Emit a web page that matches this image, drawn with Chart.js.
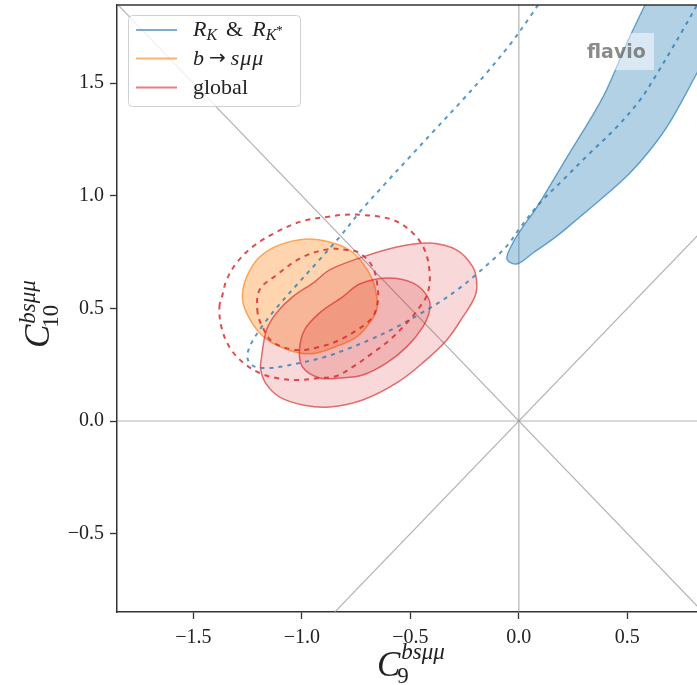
<!DOCTYPE html>
<html>
<head>
<meta charset="utf-8">
<script src="https://cdn.jsdelivr.net/npm/chart.js@4/dist/chart.umd.min.js"></script>
<style>
html,body{margin:0;padding:0;background:#fff;}
canvas{display:block;}
</style>
</head>
<body>
<canvas id="c" width="697" height="685"></canvas>
<script>
// ---- tick labels ----
const c9Ticks  = [-1.5, -1.0, -0.5, 0.0, 0.5];
const c10Ticks = [-0.5, 0.0, 0.5, 1.0, 1.5];

// ---- legend labels ----
const legendNames = ['R_K & R_K*', 'b → sμμ', 'global'];

// ---- R_K & R_K* : 1 sigma (filled, closed contour) ----
const rk1sC9  = [-0.055, -0.028, 0.018, 0.083, 0.222, 0.388, 0.498, 0.581, 0.688, 0.835, 1.02, 0.928, 0.821, 0.697, 0.605, 0.503, 0.374, 0.281, 0.175, 0.065, -0.009];
const rk1sC10 = [0.719, 0.790, 0.861, 0.950, 1.172, 1.439, 1.679, 1.847, 2.07, 2.247, 2.136, 1.736, 1.545, 1.328, 1.203, 1.092, 0.981, 0.906, 0.821, 0.746, 0.697];

// ---- R_K & R_K* : 2 sigma (dashed, open within view) ----
const rk2sC9  = [0.134, 0.051, -0.042, -0.157, -0.272, -0.388, -0.503, -0.618, -0.725, -0.826, -0.928, -1.024, -1.117, -1.186, -1.237, -1.251, -1.223, -1.158, -1.080, -0.988, -0.895, -0.803, -0.688, -0.572, -0.457, -0.365, -0.272, -0.189, -0.111, -0.051, 0.005, 0.097, 0.203, 0.328, 0.452, 0.558, 0.628, 0.697, 0.761, 0.821, 0.881];
const rk2sC10 = [1.914, 1.794, 1.670, 1.536, 1.412, 1.292, 1.172, 1.052, 0.937, 0.817, 0.706, 0.604, 0.502, 0.417, 0.337, 0.280, 0.244, 0.235, 0.244, 0.262, 0.284, 0.315, 0.360, 0.413, 0.475, 0.528, 0.591, 0.657, 0.724, 0.782, 0.857, 0.968, 1.070, 1.190, 1.306, 1.425, 1.528, 1.639, 1.745, 1.847, 1.958];

// ---- b -> s mu mu : 1 sigma (filled, closed) ----
const bsmm1sC9  = [-1.274, -1.255, -1.195, -1.103, -0.978, -0.872, -0.780, -0.720, -0.674, -0.655, -0.655, -0.688, -0.748, -0.826, -0.932, -1.011, -1.117, -1.195, -1.255];
const bsmm1sC10 = [0.551, 0.639, 0.728, 0.782, 0.808, 0.795, 0.759, 0.702, 0.626, 0.551, 0.493, 0.435, 0.373, 0.337, 0.302, 0.302, 0.337, 0.391, 0.480];

// ---- global : 2 sigma (filled, light, closed) ----
const glob2sC9  = [-1.186, -1.163, -1.117, -1.043, -0.941, -0.872, -0.734, -0.563, -0.411, -0.286, -0.212, -0.194, -0.203, -0.258, -0.332, -0.443, -0.563, -0.720, -0.872, -0.990, -1.100, -1.165, -1.190];
const glob2sC10 = [0.284, 0.404, 0.480, 0.551, 0.618, 0.671, 0.724, 0.773, 0.790, 0.759, 0.684, 0.613, 0.551, 0.462, 0.360, 0.258, 0.169, 0.093, 0.062, 0.070, 0.105, 0.165, 0.230];

// ---- global : 1 sigma (filled, darker, closed) ----
const glob1sC9  = [-1.011, -0.988, -0.918, -0.812, -0.734, -0.609, -0.489, -0.420, -0.411, -0.443, -0.517, -0.609, -0.720, -0.826, -0.918, -0.997];
const glob1sC10 = [0.315, 0.404, 0.480, 0.551, 0.608, 0.635, 0.613, 0.551, 0.493, 0.417, 0.329, 0.258, 0.204, 0.191, 0.191, 0.240];

// ---- red dashed contours (closed) ----
const redOuterC9  = [-1.380, -1.366, -1.347, -1.301, -1.228, -1.117, -0.997, -0.886, -0.812, -0.720, -0.581, -0.489, -0.434, -0.411, -0.420, -0.457, -0.517, -0.595, -0.674, -0.766, -0.840, -0.918, -1.024, -1.117, -1.195, -1.274, -1.334, -1.371];
const redOuterC10 = [0.506, 0.560, 0.626, 0.702, 0.773, 0.839, 0.888, 0.906, 0.915, 0.915, 0.893, 0.835, 0.759, 0.657, 0.568, 0.506, 0.435, 0.360, 0.302, 0.240, 0.200, 0.191, 0.182, 0.191, 0.213, 0.262, 0.329, 0.417];
const redInnerC9  = [-1.204, -1.195, -1.117, -0.997, -0.872, -0.794, -0.734, -0.674, -0.651, -0.651, -0.674, -0.725, -0.826, -0.918, -1.024, -1.135, -1.181];
const redInnerC10 = [0.480, 0.582, 0.648, 0.728, 0.764, 0.759, 0.746, 0.684, 0.595, 0.524, 0.462, 0.417, 0.360, 0.329, 0.315, 0.351, 0.417];

// ---- grey reference lines ----
const vLineC9 = [0, 0],   vLineC10 = [-3, 3];
const hLineC9 = [-3, 3],  hLineC10 = [0, 0];
const dUpC9   = [-3, 3],  dUpC10   = [-3, 3];
const dDnC9   = [-3, 3],  dDnC10   = [3, -3];

// closed-contour controller: a line controller whose line element loops back to its first point
class ClosedLineController extends Chart.LineController {
  update(mode) {
    const line = this._cachedMeta.dataset;
    if (line) { line._loop = true; line._fullLoop = true; }
    super.update(mode);
    if (line) { line._loop = true; line._fullLoop = true; }
  }
}
ClosedLineController.id = 'closedLine';
ClosedLineController.defaults = Chart.LineController.defaults;
Chart.register(ClosedLineController);

const pts = (xs, ys) => xs.map((x, i) => ({x: x, y: ys[i]}));

const BLUE = '31,119,180', ORANGE = '255,127,14', RED = '214,39,40';
const greyLine = (xs, ys) => ({data: pts(xs, ys), borderColor: 'rgba(150,150,150,0.72)', borderWidth: 1.2, fill: false, tension: 0, order: 20});

const datasets = [
  greyLine(vLineC9, vLineC10),
  greyLine(hLineC9, hLineC10),
  greyLine(dUpC9, dUpC10),
  greyLine(dDnC9, dDnC10),
  {type: 'closedLine', data: pts(rk1sC9, rk1sC10), backgroundColor: 'rgba(' + BLUE + ',0.34)', borderColor: 'rgba(' + BLUE + ',0.65)', borderWidth: 1.4, fill: 'shape', order: 15},
  {type: 'closedLine', data: pts(bsmm1sC9, bsmm1sC10), backgroundColor: 'rgba(' + ORANGE + ',0.33)', borderColor: 'rgba(' + ORANGE + ',0.65)', borderWidth: 1.5, fill: 'shape', order: 14},
  {type: 'closedLine', data: pts(glob2sC9, glob2sC10), backgroundColor: 'rgba(' + RED + ',0.18)', borderColor: 'rgba(' + RED + ',0.65)', borderWidth: 1.5, fill: 'shape', order: 13},
  {type: 'closedLine', data: pts(glob1sC9, glob1sC10), backgroundColor: 'rgba(' + RED + ',0.2)', borderColor: 'rgba(' + RED + ',0.65)', borderWidth: 1.5, fill: 'shape', order: 12},
  {data: pts(rk2sC9, rk2sC10), borderColor: 'rgba(' + BLUE + ',0.75)', borderWidth: 2, borderDash: [4, 5], fill: false, order: 5},
  {type: 'closedLine', data: pts(redOuterC9, redOuterC10), borderColor: 'rgba(' + RED + ',0.82)', borderWidth: 2, borderDash: [5, 5], fill: false, order: 4},
  {type: 'closedLine', data: pts(redInnerC9, redInnerC10), borderColor: 'rgba(' + RED + ',0.82)', borderWidth: 2, borderDash: [5, 5], fill: false, order: 4}
];

const fmt = v => (Math.abs(v) < 1e-9 ? '0.0' : v.toFixed(1)).replace('-', '\u2212');
const SERIF = '"Liberation Serif", "DejaVu Serif", serif';

const decor = {
  id: 'decor',
  afterDatasetsDraw(chart) {
    const ctx = chart.ctx, a = chart.chartArea;
    ctx.save();
    // watermark
    ctx.fillStyle = 'rgba(255,255,255,0.5)';
    ctx.fillRect(579, 33, 75, 37);
    ctx.font = 'bold 19px "DejaVu Sans", sans-serif';
    ctx.fillStyle = 'rgba(100,100,100,0.75)';
    ctx.textAlign = 'left';
    ctx.textBaseline = 'alphabetic';
    ctx.fillText('flavio', 587, 58);
    // top frame
    ctx.strokeStyle = '#333';
    ctx.lineWidth = 1.5;
    ctx.beginPath();
    ctx.moveTo(a.left - 0.75, a.top);
    ctx.lineTo(a.right, a.top);
    ctx.stroke();
    ctx.restore();
  },
  afterDraw(chart) {
    const ctx = chart.ctx;
    ctx.save();
    // ---- legend ----
    ctx.beginPath();
    ctx.roundRect(128.5, 15.5, 172, 91, 4);
    ctx.fillStyle = 'rgba(255,255,255,0.8)';
    ctx.fill();
    ctx.strokeStyle = 'rgba(204,204,204,0.9)';
    ctx.lineWidth = 1;
    ctx.stroke();
    const rows = [30, 58.5, 87.5];
    const cols = ['rgba(' + BLUE + ',0.6)', 'rgba(' + ORANGE + ',0.6)', 'rgba(' + RED + ',0.6)'];
    rows.forEach((y, i) => {
      ctx.strokeStyle = cols[i];
      ctx.lineWidth = 1.8;
      ctx.beginPath();
      ctx.moveTo(136, y);
      ctx.lineTo(177, y);
      ctx.stroke();
    });
    ctx.fillStyle = '#222';
    ctx.textAlign = 'left';
    ctx.textBaseline = 'alphabetic';
    const run = (x, y, parts) => {
      for (const p of parts) {
        ctx.font = p[1];
        ctx.fillText(p[0], x, y + (p[2] || 0));
        x += ctx.measureText(p[0]).width + (p[3] || 0);
      }
      return x;
    };
    const IT = 'italic 22px ' + SERIF, RM = '22px ' + SERIF, SUB = 'italic 16px ' + SERIF, SS = '13px ' + SERIF;
    const ARR = '20px "DejaVu Sans", sans-serif';
    // "R_K & R_K*"
    run(193, 36, [['R', IT, 0, 0], ['K', SUB, 4, 9], ['&', RM, 0, 9], ['R', IT, 0, 0], ['K', SUB, 4, 0], ['*', SS, -2, 0]]);
    // "b -> s mu mu"
    run(193, 65, [['b', IT, 0, 5], ['\u2192', ARR, -1, 5], ['s', IT, 0, 1], ['\u03bc', IT, 0, 1], ['\u03bc', IT, 0, 0]]);
    // "global"
    run(193, 94, [[legendNames[2], RM, 0, 0]]);

    // ---- x axis title: C_9^{bs mu mu} ----
    ctx.fillStyle = '#222';
    ctx.font = 'italic 35px ' + SERIF;
    ctx.fillText('C', 377, 676);
    let w = ctx.measureText('C').width;
    ctx.font = 'italic 23px ' + SERIF;
    ctx.fillText('bs\u03bc\u03bc', 377 + w + 1, 659);
    ctx.font = '23px ' + SERIF;
    ctx.fillText('9', 377 + w - 3, 683);

    // ---- y axis title: C_10^{bs mu mu} ----
    ctx.translate(0, 348);
    ctx.rotate(-Math.PI / 2);
    ctx.font = 'italic 35px ' + SERIF;
    ctx.fillText('C', 0, 49);
    w = ctx.measureText('C').width;
    ctx.font = 'italic 23px ' + SERIF;
    ctx.fillText('bs\u03bc\u03bc', w + 1, 35);
    ctx.font = '23px ' + SERIF;
    ctx.fillText('10', w - 3, 58);
    ctx.restore();
  }
};

const axisCommon = {
  type: 'linear',
  grid: {drawOnChartArea: false, drawTicks: true, tickLength: 7, tickColor: '#333', tickWidth: 1.3},
  border: {display: true, color: '#333', width: 1.5},
  ticks: {font: {family: SERIF, size: 20}, color: '#222', autoSkip: false, maxRotation: 0, includeBounds: false, callback: v => fmt(v)}
};

new Chart(document.getElementById('c'), {
  type: 'line',
  data: {datasets: datasets},
  options: {
    responsive: false,
    animation: false,
    events: [],
    layout: {padding: {top: 5, right: 0, left: 0, bottom: 0}},
    elements: {point: {radius: 0, hoverRadius: 0}, line: {tension: 0.35}},
    plugins: {legend: {display: false}, tooltip: {enabled: false}},
    scales: {
      x: Object.assign({}, axisCommon, {
        position: 'bottom', min: -1.852, max: 0.821,
        afterBuildTicks: s => { s.ticks = c9Ticks.map(v => ({value: v})); },
        afterFit: s => { s.height = 73; s.paddingLeft = 0; s.paddingRight = 0; },
        ticks: Object.assign({}, axisCommon.ticks, {padding: 7})
      }),
      y: Object.assign({}, axisCommon, {
        position: 'left', min: -0.848, max: 1.847,
        afterBuildTicks: s => { s.ticks = c10Ticks.map(v => ({value: v})); },
        afterFit: s => { s.width = 117; s.paddingTop = 0; s.paddingBottom = 0; },
        ticks: Object.assign({}, axisCommon.ticks, {padding: 6})
      })
    }
  },
  plugins: [decor]
});
</script>
</body>
</html>
